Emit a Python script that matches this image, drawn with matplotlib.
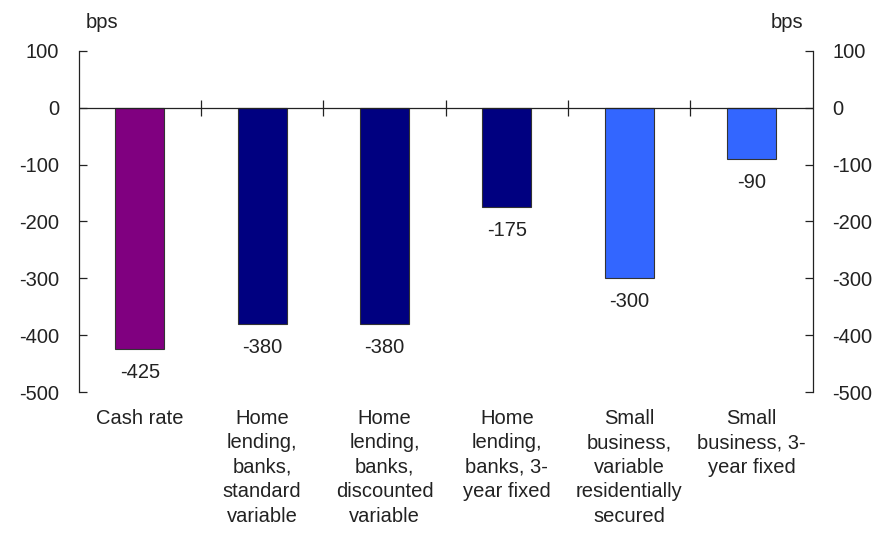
import matplotlib
matplotlib.use('Agg')
import matplotlib.pyplot as plt
import numpy as np

# data
categories = ['Cash rate',
              'Home\nlending,\nbanks,\nstandard\nvariable',
              'Home\nlending,\nbanks,\ndiscounted\nvariable',
              'Home\nlending,\nbanks, 3-\nyear fixed',
              'Small\nbusiness,\nvariable\nresidentially\nsecured',
              'Small\nbusiness, 3-\nyear fixed']
changes = [-425, -380, -380, -175, -300, -90]
bar_colors = ['#800080', '#000080', '#000080', '#000080', '#3366FF', '#3366FF']
y_ticks = [100, 0, -100, -200, -300, -400, -500]

plt.rcParams['font.family'] = ['Liberation Sans', 'DejaVu Sans']
plt.rcParams['font.size'] = 14.5
plt.rcParams['axes.unicode_minus'] = False
txt_color = '#222222'

fig = plt.figure(figsize=(8.79, 5.46), dpi=100)
ax = fig.add_axes([0.0895, 0.282, 0.835, 0.625])

x = np.arange(len(categories))
ax.bar(x, changes, width=0.4, color=bar_colors, edgecolor='#333333', linewidth=0.8, zorder=2)

for xi, v in zip(x, changes):
    ax.annotate(f'{v}', (xi, v), xytext=(0, -10), textcoords='offset points',
                ha='center', va='top', color=txt_color)

# zero line with category separators
ax.axhline(0, color='#222222', linewidth=0.9, zorder=3)
bounds = x[:-1] + 0.5
ax.plot(bounds, np.zeros(len(bounds)), linestyle='none', marker='|',
        markersize=11.5, markeredgewidth=0.9, color='#222222', zorder=3)

ax.set_xlim(-0.5, len(categories) - 0.5)
ax.set_ylim(-500, 100)
ax.set_yticks(y_ticks)
ax.set_xticks(x)
ax.set_xticklabels(categories, color=txt_color, linespacing=1.37)
ax.tick_params(axis='x', length=0, pad=12)
ax.tick_params(axis='y', direction='in', length=6, width=0.9, pad=14,
               left=True, right=True, labelleft=True, labelright=True,
               labelcolor=txt_color, color='#222222')

for s in ['top', 'bottom']:
    ax.spines[s].set_visible(False)
for s in ['left', 'right']:
    ax.spines[s].set_color('#222222')
    ax.spines[s].set_linewidth(0.9)

fig.text(102 / 879, 1 - 22 / 546, 'bps', ha='center', va='center', color=txt_color)
fig.text(787 / 879, 1 - 22 / 546, 'bps', ha='center', va='center', color=txt_color)

fig.savefig('out.png', dpi=100)
